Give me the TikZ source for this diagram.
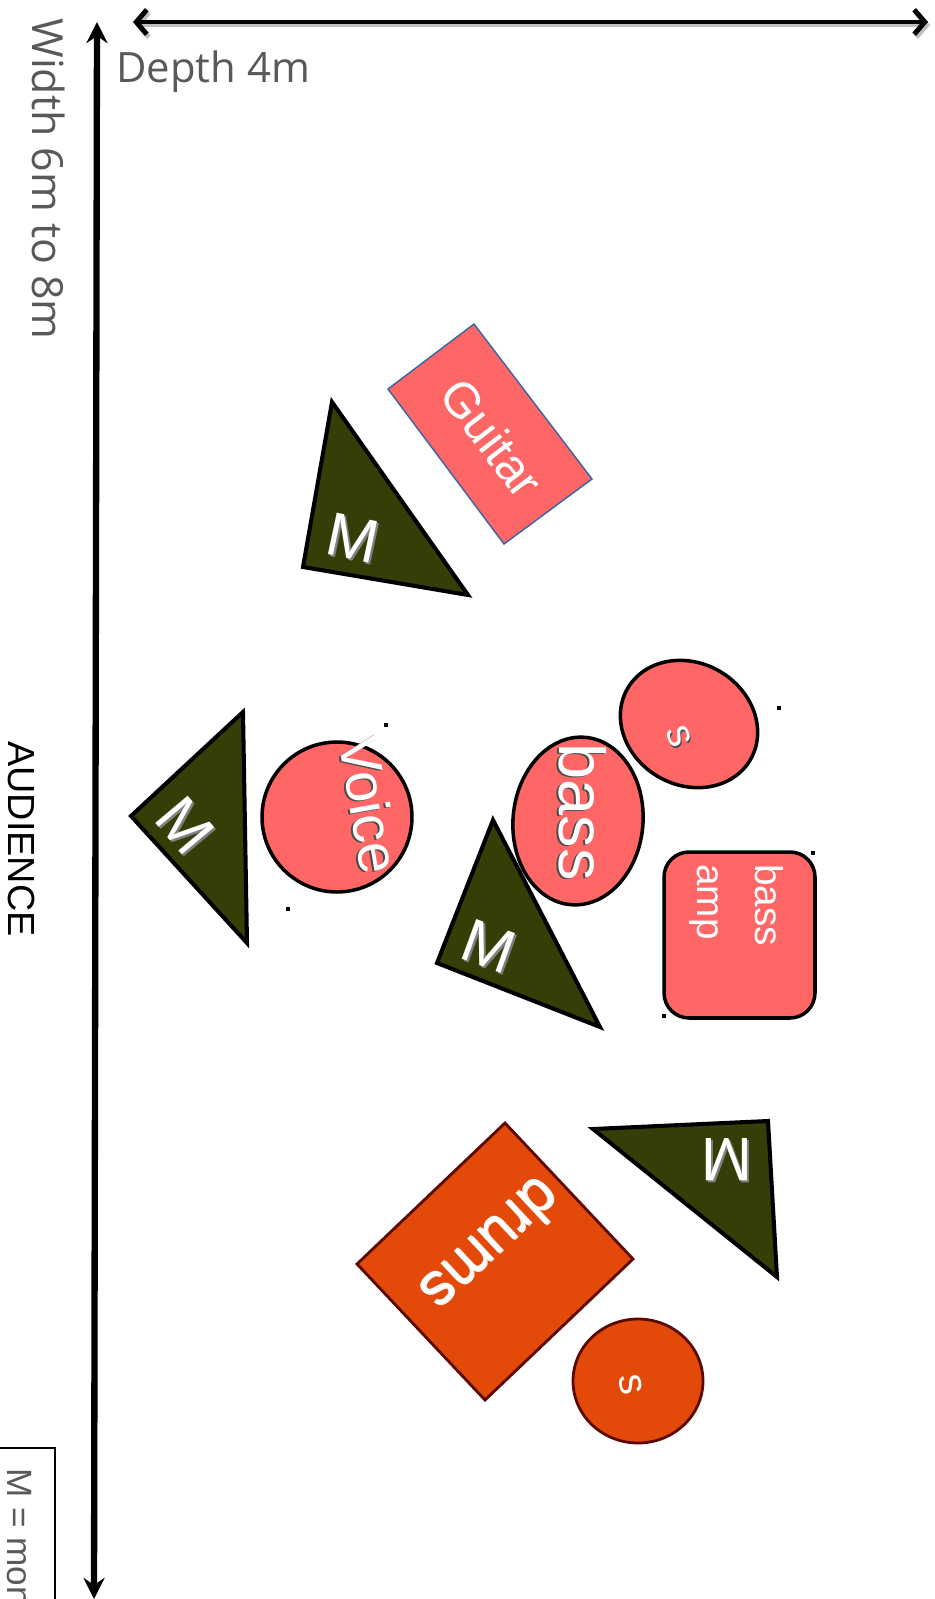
\documentclass[tikz,border=0pt]{standalone}
\usepackage{fontspec}
\setmainfont{Liberation Sans}
\newfontfamily\osans{Open Sans}
\usetikzlibrary{arrows.meta,shapes.geometric}
\definecolor{pinkfill}{HTML}{FF6666}
\definecolor{olivefill}{HTML}{333F06}
\definecolor{drumfill}{HTML}{E34A0A}
\definecolor{drumedge}{HTML}{5C0A00}
\definecolor{guitaredge}{HTML}{3465A4}
\definecolor{greytext}{HTML}{595959}
\definecolor{shadowgrey}{HTML}{808080}
\tikzset{
  monitor/.style={fill=olivefill,draw=black,line width=2.3pt,line join=miter},
  pinkshape/.style={fill=pinkfill,draw=black,line width=2pt,inner sep=0pt},
  drumshape/.style={fill=drumfill,draw=drumedge,line width=1.6pt,inner sep=0pt},
  mtext/.style={text=white,font=\fontsize{35}{35}\selectfont,inner sep=0pt},
  mshadow/.style={text=shadowgrey,font=\fontsize{35}{35}\selectfont,inner sep=0pt},
  handle/.style={rectangle,fill=black,inner sep=0pt,minimum size=0.08cm},
  bigtext/.style={text=white,inner sep=0pt},
  darkshadow/.style={text=black!70,inner sep=0pt},
  greylabel/.style={text=greytext,inner sep=0pt},
  dimarrow/.style={line width=2.8pt,{Straight Barb[length=6pt,width=14pt]}-{Straight Barb[length=6pt,width=14pt]}},
  widtharrow/.style={line width=3.6pt,{Stealth[length=12pt,width=12pt,inset=4pt]}-{Stealth[length=12pt,width=12pt,inset=4pt]}}
}
\begin{document}
\begin{tikzpicture}[x=0.02cm,y=-0.02cm]
\useasboundingbox (0,0) rectangle (935,1599);
\clip (0,0) rectangle (935,1599);
\fill[white] (0,0) rectangle (935,1599);

% dimension arrows
\coordinate (dl) at (133,22);
\coordinate (dr) at (928,22);
\coordinate (dls) at (135,25);
\coordinate (drs) at (930,25);
\draw[dimarrow,draw=black!25] (dls) -- (drs);
\draw[dimarrow] (dl) -- (dr);
\coordinate (wt) at (97,22);
\coordinate (wb) at (94,1599);
\draw[widtharrow] (wb) -- (wt);

% labels
\node[greylabel,font=\osans\fontsize{24.4}{24.4}\selectfont,rotate=-90,anchor=base west] (widthlbl) at (32,18) {Width 6m to 8m};
\node[greylabel,font=\osans\fontsize{23.8}{23.8}\selectfont,anchor=base west] (depthlbl) at (116,82) {Depth 4m};
\node[inner sep=0pt,font=\fontsize{21.5}{21.5}\selectfont,rotate=-90,anchor=base west] (audience) at (9,741) {AUDIENCE};
\draw[line width=0.8pt] (-5,1448) -- (55,1448) -- (55,1610);
\node[greylabel,font=\fontsize{20}{20}\selectfont,rotate=-90,anchor=base west] (legend) at (8,1468) {M = monitor};

% guitar
\draw[fill=pinkfill,draw=guitaredge,line width=0.8pt] (474,324) coordinate (g1) -- (592,479) coordinate (g2) -- (504,544) coordinate (g3) -- (388,389) coordinate (g4) -- cycle;
\node[bigtext,font=\fontsize{28}{28}\selectfont,rotate=-52.6] (guitar) at (492,438) {Guitar};

% monitor 1
\draw[monitor] (332,402) coordinate (m1a) -- (468,595) coordinate (m1b) -- (303,567) coordinate (m1c) -- cycle;
\node[mshadow,rotate=-12] (m1s) at (355,540) {M};
\node[mtext,rotate=-12] (m1) at (353,538) {M};

% monitor 2
\draw[monitor] (243,712) coordinate (m2a) -- (247,943) coordinate (m2b) -- (131,816) coordinate (m2c) -- cycle;
\node[mshadow,rotate=-50] (m2s) at (187,828) {M};
\node[mtext,rotate=-50] (m2) at (185,826) {M};

% voice
\node[pinkshape,circle,minimum size=3cm] (voicecirc) at (337,817) {};
\node[darkshadow,font=\fontsize{32}{32}\selectfont,rotate=-80] (voices) at (368,806) {Voice};
\node[bigtext,font=\fontsize{32}{32}\selectfont,rotate=-80] (voice) at (370,805) {Voice};
\node[handle] (h1) at (386,725) {};
\node[handle] (h2) at (288,909) {};

% bass
\node[pinkshape,ellipse,minimum width=2.6cm,minimum height=3.36cm,rotate=-5] (bassell) at (578,821) {};
\node[darkshadow,font=\fontsize{37}{37}\selectfont,rotate=-90] (basss) at (581,813) {bass};
\node[bigtext,font=\fontsize{37}{37}\selectfont,rotate=-90] (bass) at (583,812) {bass};
\node[handle,minimum size=0.05cm] (h6) at (600,740) {};
\node[handle,minimum size=0.05cm] (h7) at (614,748) {};

% bass speaker
\node[pinkshape,ellipse,minimum width=2.84cm,minimum height=2.44cm,rotate=-30] (sell) at (689,724) {};
\node[darkshadow,font=\fontsize{23}{23}\selectfont,rotate=-70] (s1s) at (680,738) {s};
\node[bigtext,font=\fontsize{23}{23}\selectfont,rotate=-70] (s1) at (679,736) {s};
\node[handle] (h3) at (779,708) {};

% bass amp
\node[pinkshape,rectangle,rounded corners=0.5cm,minimum width=3.02cm,minimum height=3.32cm] (amp) at (739.5,935) {};
\node[bigtext,font=\fontsize{22}{33}\selectfont,rotate=-90,anchor=north west,align=left] (amptext) at (784,864) {bass\\amp};
\node[handle] (h4) at (813,853) {};
\node[handle] (h5) at (664,1016) {};

% monitor 3
\draw[monitor] (493,820) coordinate (m3a) -- (600,1027) coordinate (m3b) -- (437,963) coordinate (m3c) -- cycle;
\node[mshadow,rotate=-20] (m3s) at (491,948) {M};
\node[mtext,rotate=-20] (m3) at (489,946) {M};

% monitor 4
\draw[monitor] (593,1129) coordinate (m4a) -- (768,1121) coordinate (m4b) -- (777,1277) coordinate (m4c) -- cycle;
\node[mshadow,rotate=180] (m4s) at (729,1162) {M};
\node[mtext,rotate=180] (m4) at (727,1160) {M};

% drums
\draw[drumshape] (505,1123) coordinate (d1) -- (633,1259) coordinate (d2) -- (485,1400) coordinate (d3) -- (357,1264) coordinate (d4) -- cycle;
\node[text=white!75!pink,inner sep=0pt,font=\fontsize{34}{34}\selectfont,rotate=-137] (drumsglow) at (493,1247) {drums};
\node[bigtext,font=\fontsize{34}{34}\selectfont,rotate=-137] (drums) at (491,1246) {drums};

% drum speaker
\node[drumshape,ellipse,minimum width=2.6cm,minimum height=2.48cm] (s2ell) at (638,1381) {};
\node[bigtext,font=\fontsize{23}{23}\selectfont,rotate=-80] (s2) at (631,1385) {s};
\end{tikzpicture}
\end{document}
